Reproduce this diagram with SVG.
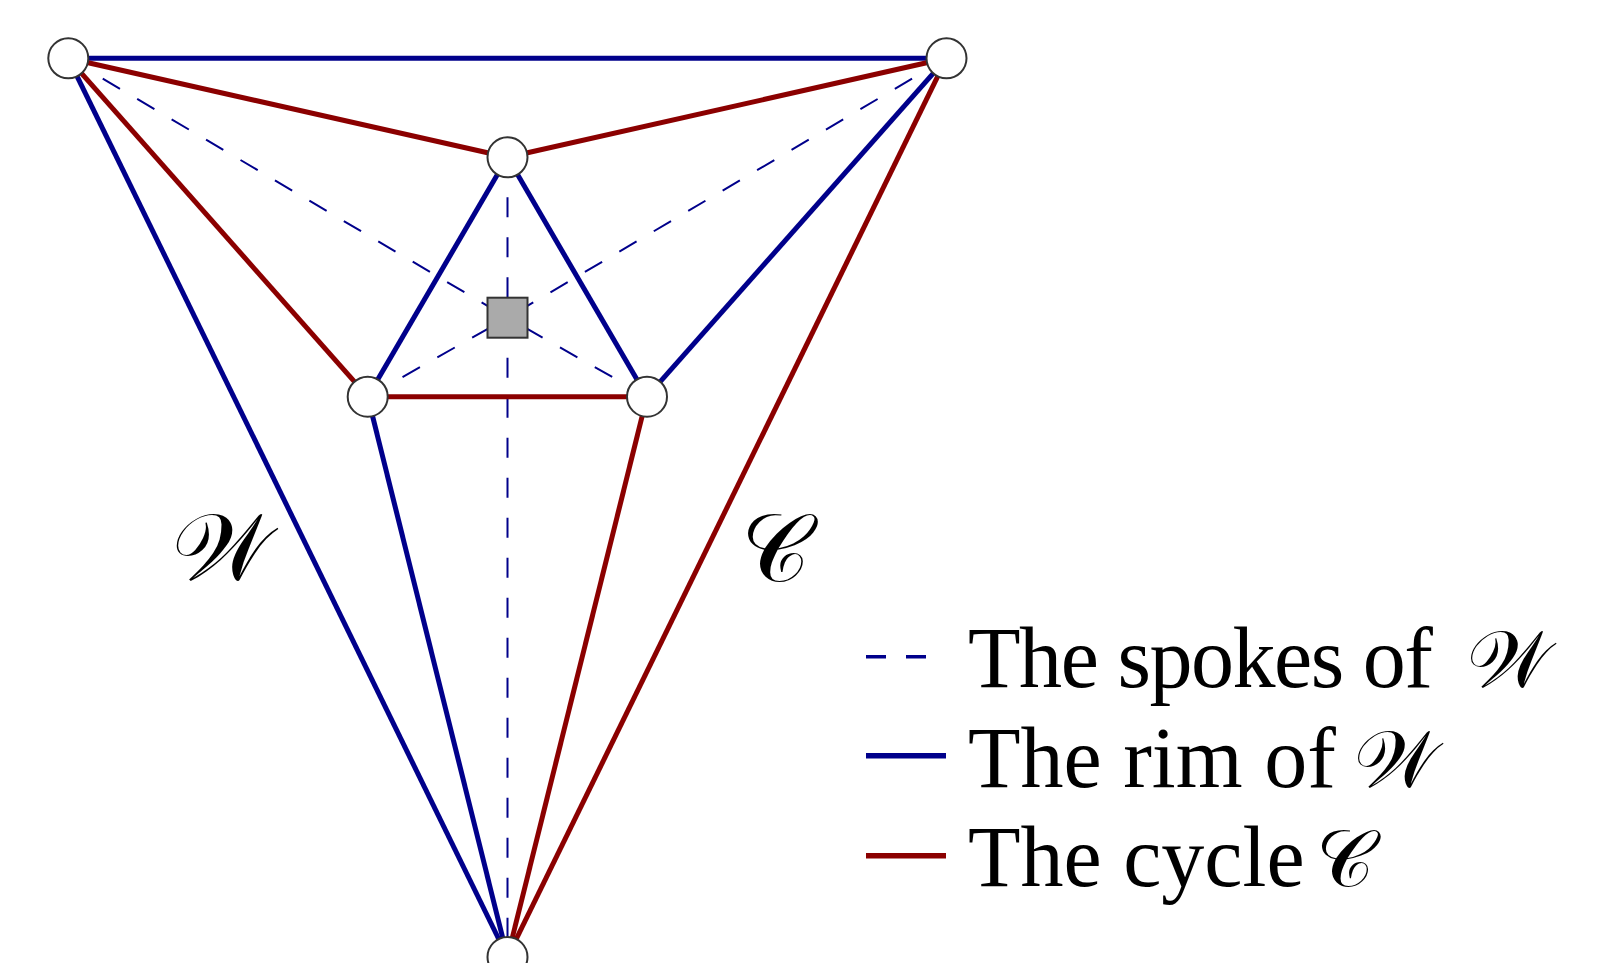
<svg xmlns="http://www.w3.org/2000/svg" width="1612" height="963" viewBox="0 0 1612 963">
<style>
.spoke{stroke:#00008b;stroke-width:2;stroke-dasharray:20 20;fill:none}
.rim{stroke:#00008b;stroke-width:5;fill:none}
.cyc{stroke:#8b0000;stroke-width:5;fill:none}
.node{fill:#fff;stroke:#333;stroke-width:2}
.hub{fill:#aaa;stroke:#333;stroke-width:2}
.txt{font-family:"Liberation Serif","Times New Roman",serif;font-size:86px;fill:#000}
.math{font-family:"DejaVu Serif","DejaVu Sans","Noto Sans",serif;font-style:normal;fill:#000}
</style>
<rect width="1612" height="963" fill="#fff"/>
<g id="connectors">
  <g id="spokes">
    <line class="spoke" x1="68.3" y1="58.3" x2="507.5" y2="317.7"/>
    <line class="spoke" x1="946.5" y1="58.3" x2="507.5" y2="317.7"/>
    <line class="spoke" x1="507.5" y1="157.3" x2="507.5" y2="317.7"/>
    <line class="spoke" x1="367.7" y1="396.7" x2="507.5" y2="317.7"/>
    <line class="spoke" x1="647" y1="396.7" x2="507.5" y2="317.7"/>
    <line class="spoke" x1="507.5" y1="317.7" x2="507.5" y2="957"/>
  </g>
  <g id="rim">
    <line class="rim" x1="68.3" y1="58.3" x2="946.5" y2="58.3"/>
    <line class="rim" x1="946.5" y1="58.3" x2="647" y2="396.7"/>
    <line class="rim" x1="647" y1="396.7" x2="507.5" y2="157.3"/>
    <line class="rim" x1="507.5" y1="157.3" x2="367.7" y2="396.7"/>
    <line class="rim" x1="367.7" y1="396.7" x2="507.5" y2="957"/>
    <line class="rim" x1="507.5" y1="957" x2="68.3" y2="58.3"/>
  </g>
  <g id="cycle">
    <line class="cyc" x1="68.3" y1="58.3" x2="507.5" y2="157.3"/>
    <line class="cyc" x1="507.5" y1="157.3" x2="946.5" y2="58.3"/>
    <line class="cyc" x1="946.5" y1="58.3" x2="507.5" y2="957"/>
    <line class="cyc" x1="507.5" y1="957" x2="647" y2="396.7"/>
    <line class="cyc" x1="647" y1="396.7" x2="367.7" y2="396.7"/>
    <line class="cyc" x1="367.7" y1="396.7" x2="68.3" y2="58.3"/>
  </g>
</g>
<g id="node-tl"><circle class="node" cx="68.3" cy="58.3" r="20"/></g>
<g id="node-tr"><circle class="node" cx="946.5" cy="58.3" r="20"/></g>
<g id="node-tm"><circle class="node" cx="507.5" cy="157.3" r="20"/></g>
<g id="node-l"><circle class="node" cx="367.7" cy="396.7" r="20"/></g>
<g id="node-r"><circle class="node" cx="647" cy="396.7" r="20"/></g>
<g id="node-b"><circle class="node" cx="507.5" cy="957" r="20"/></g>
<g id="node-hub"><rect class="hub" x="487.5" y="297.7" width="40" height="40"/></g>
<g id="labels">
  <text class="math" x="172" y="580" font-size="95">𝒲</text>
  <text class="math" x="741" y="581" font-size="95">𝒞</text>
</g>
<g id="legend">
  <line x1="866" y1="656.7" x2="946" y2="656.7" stroke="#00008b" stroke-width="3.5" stroke-dasharray="20 20"/>
  <line x1="866" y1="755.7" x2="946" y2="755.7" stroke="#00008b" stroke-width="5.5"/>
  <line x1="866" y1="855.7" x2="946" y2="855.7" stroke="#8b0000" stroke-width="5.5"/>
  <text class="txt" x="968" y="687.3" textLength="465" lengthAdjust="spacing">The spokes of</text>
  <text class="math" x="1467" y="687.3" font-size="80">𝒲</text>
  <text class="txt" x="968" y="787.3">The rim of</text>
  <text class="math" x="1354" y="787.3" font-size="80">𝒲</text>
  <text class="txt" x="968" y="886">The cycle</text>
  <text class="math" x="1316" y="886" font-size="80">𝒞</text>
</g>
</svg>
